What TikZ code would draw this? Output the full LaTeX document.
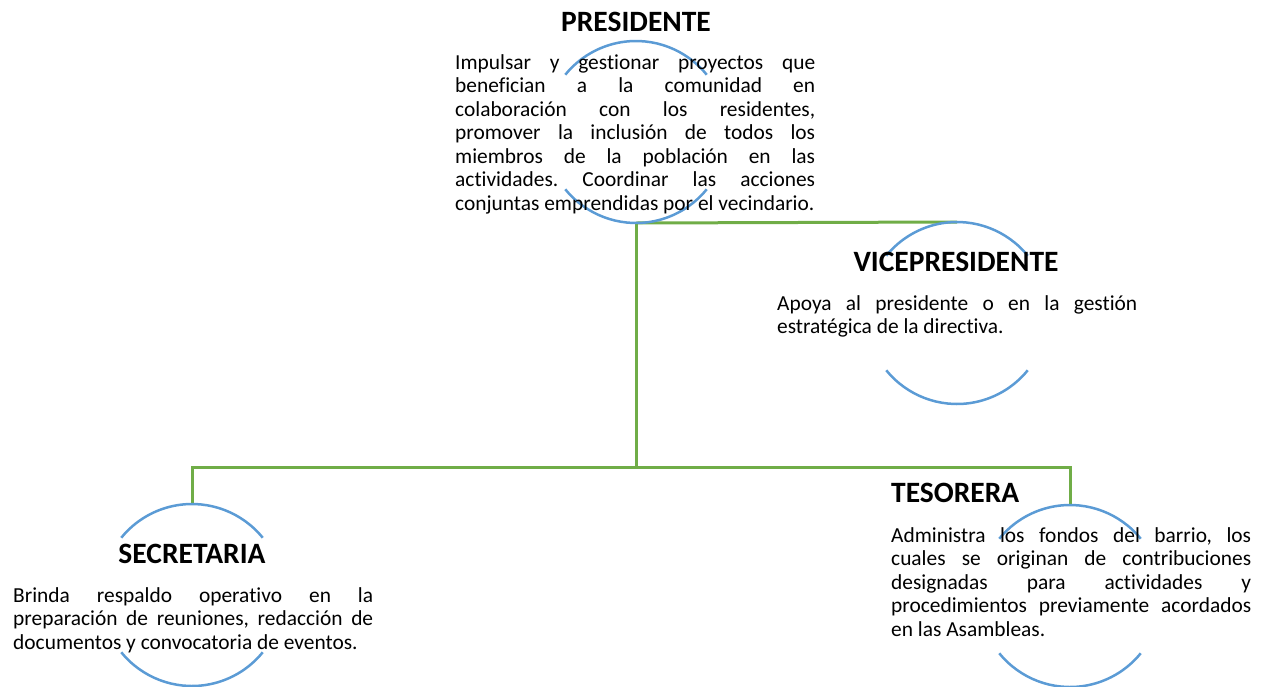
\documentclass[tikz,border=0pt]{standalone}
\usepackage{fontspec}
\setmainfont{Carlito}[RawFeature=-liga]
\usetikzlibrary{positioning}

\definecolor{ringblue}{RGB}{91,155,213}
\definecolor{linkgreen}{RGB}{112,173,71}
\frenchspacing

\begin{document}
\begin{tikzpicture}[x=1pt, y=1pt,
    ring/.style={circle, minimum size=182pt, inner sep=0pt, outer sep=0pt},
    arcline/.style={draw=ringblue, line width=2.5pt},
    link/.style={draw=linkgreen, line width=3pt},
    title/.style={font=\fontsize{29.5}{34}\selectfont\bfseries, inner sep=0pt},
    desc/.style={font=\fontsize{21.4}{23.5}\selectfont, text width=360pt, align=justify, inner sep=0pt, anchor=north west}]
    \useasboundingbox (0,0) rectangle (1262,-686);

    % rings
    \node[ring] (pres) at (636,-132) {};
    \node[ring] (vice) at (957,-313) {};
    \node[ring] (secr) at (192,-595) {};
    \node[ring] (teso) at (1070,-596) {};
    \coordinate (bus) at (636,-467);

    % links
    \draw[link] (pres.south) -- (vice.north);
    \draw[link] (pres.south) -- (bus);
    \draw[link] (secr.north) |- (bus) -| (teso.north);

    \foreach \who in {pres,vice,secr,teso} {
        \draw[arcline] (\who.39) arc[start angle=39, end angle=141, radius=91pt];
        \draw[arcline] (\who.219) arc[start angle=219, end angle=321, radius=91pt];
    }

    % titles
    \node[title] (presT) at (636,-22) {PRESIDENTE};
    \node[title] (viceT) at (956,-262) {VICEPRESIDENTE};
    \node[title] (secrT) at (192,-554) {SECRETARIA};
    \node[title, anchor=west] (tesoT) at (891,-493) {TESORERA};

    % texts
    \node[desc] (presD) at (455,-54) {Impulsar y gestionar proyectos que\linebreak
        benefician a la comunidad en\linebreak
        colaboración con los residentes,\linebreak
        promover la inclusión de todos los\linebreak
        miembros de la población en las\linebreak
        actividades. Coordinar las acciones\linebreak
        conjuntas emprendidas por el vecindario.};
    \node[desc] (viceD) at (777,-295) {Apoya al presidente o en la gestión\linebreak
        estratégica de la directiva.};
    \node[desc] (secrD) at (13,-587) {Brinda respaldo operativo en la\linebreak
        preparación de reuniones, redacción de\linebreak
        documentos y convocatoria de eventos.};
    \node[desc] (tesoD) at (891,-527) {Administra los fondos del barrio, los\linebreak
        cuales se originan de contribuciones\linebreak
        designadas para actividades y\linebreak
        procedimientos previamente acordados\linebreak
        en las Asambleas.};
\end{tikzpicture}
\end{document}
